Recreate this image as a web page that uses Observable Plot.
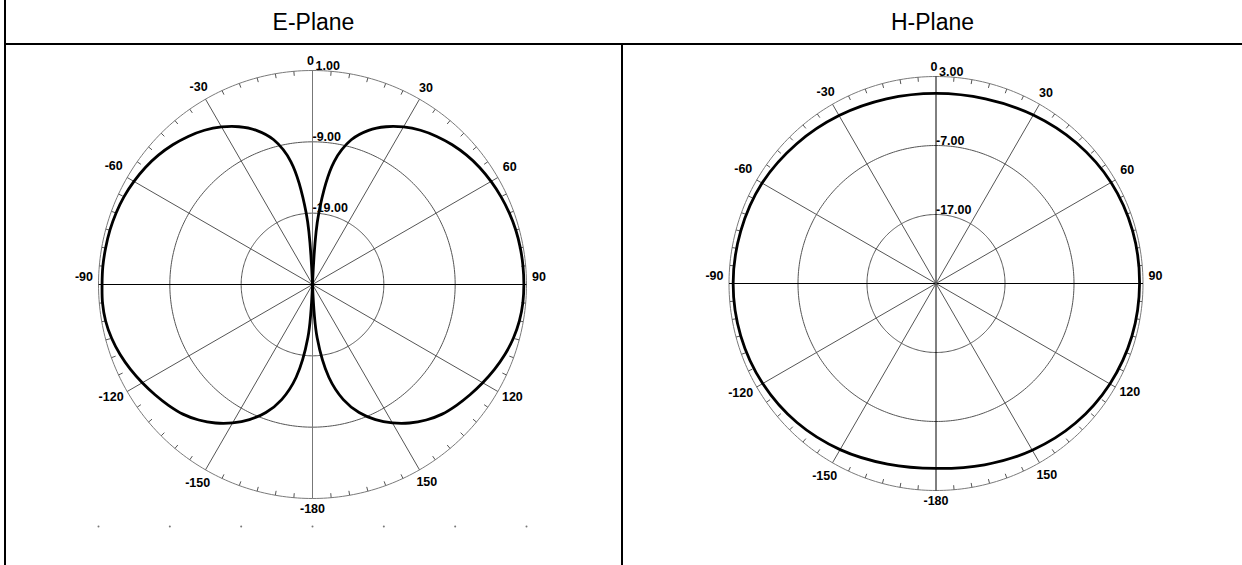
<!DOCTYPE html>
<html><head><meta charset="utf-8">
<script src="https://cdn.jsdelivr.net/npm/d3@7"></script>
<script src="https://cdn.jsdelivr.net/npm/@observablehq/plot@0.6"></script>
<style>
html,body{margin:0;padding:0;background:#fff;}
#page{position:relative;width:1242px;height:565px;overflow:hidden;font-family:"Liberation Sans",Arial,sans-serif;}
.rule{position:absolute;background:#000;}
.head{position:absolute;top:0;height:44px;line-height:45px;text-align:center;font-size:23px;color:#000;}
.cell{position:absolute;top:45px;}
</style></head>
<body><div id="page">
<div class="rule" style="left:4px;top:0;width:2px;height:565px"></div>
<div class="rule" style="left:4px;top:43px;width:1238px;height:2px"></div>
<div class="rule" style="left:621px;top:45px;width:2px;height:520px"></div>
<div class="head" id="hE" style="left:6px;width:615px"></div>
<div class="head" id="hH" style="left:623px;width:619px"></div>
<div class="cell" id="cE" style="left:6px"></div>
<div class="cell" id="cH" style="left:623px"></div>
</div>
<script>
// ---- data ----
const panelTitles = ["E-Plane", "H-Plane"];
const spokeAngles = [0, 30, 60, 90, 120, 150];
const angleTickValues = [0, 30, 60, 90, 120, 150, 180, -150, -120, -90, -60, -30];
const angleTickLabels = ["0", "30", "60", "90", "120", "150", "-180", "-150", "-120", "-90", "-60", "-30"];

// E-Plane: rings (dB) and labels, centre value
const eRingValues = [1, -9, -19];
const eRingLabels = ["1.00", "-9.00", "-19.00"];
const eMinDb = -29;
// E-Plane measured gain (dB) vs angle (deg, clockwise from top)
const eAngles = [0,5,10,15,20,25,30,35,40,45,50,55,60,65,70,75,80,85,90,95,100,105,110,115,120,125,130,135,140,145,150,155,160,165,170,175,
                 180,185,190,195,200,205,210,215,220,225,230,235,240,245,250,255,260,265,270,275,280,285,290,295,300,305,310,315,320,325,330,335,340,345,350,355];
const eGain = [-29,-19,-11.5,-8,-6,-4.6,-3.5,-2.6,-1.9,-1.3,-0.8,-0.4,-0.1,0.15,0.35,0.5,0.58,0.62,0.63,0.6,0.45,0.15,-0.3,-0.85,-1.45,-2.05,-2.65,-3.3,-4.2,-5.3,-6.6,-8.1,-9.9,-12.3,-15.8,-21.5,
               -29,-21.5,-15.8,-12.3,-9.9,-8.1,-6.6,-5.3,-4.2,-3.3,-2.65,-2.05,-1.45,-0.85,-0.3,0.15,0.45,0.55,0.5,0.5,0.45,0.4,0.3,0.15,-0.1,-0.4,-0.8,-1.3,-1.9,-2.6,-3.5,-4.6,-6,-8,-11.5,-19];

// H-Plane
const hRingValues = [3, -7, -17];
const hRingLabels = ["3.00", "-7.00", "-17.00"];
const hMinDb = -27;
const hAngles = [0,15,30,45,60,75,90,105,120,135,150,165,180,195,210,225,240,255,270,285,300,315,330,345];
const hGain = [0.55,0.7,1.2,1.8,2.3,2.5,2.5,2.4,2.1,1.6,0.9,0.2,-0.2,0.1,0.8,1.5,2.0,2.3,2.4,2.3,2.1,1.6,1.1,0.7];

// ---- drawing ----
const FONT = '"Liberation Sans", Arial, sans-serif';
const LABEL_SIZE = 12.5;
const rad = a => a * Math.PI / 180;
function pt(a, r) { return {x: r * Math.sin(rad(a)), y: r * Math.cos(rad(a))}; }
const textWidth = s => [...s].reduce((w, ch) => w + (ch === "-" ? 0.333 : ch === "." ? 0.278 : 0.556), 0) * LABEL_SIZE;

function panel({width, height, cx, cy, R, minDb, ringValues, ringLabels, angles, gains, lobes, spokeColors, bottomDots}) {
  const maxDb = ringValues[0];
  const rho = v => Math.max(0, (v - minDb) / (maxDb - minDb));
  let traceMark;
  if (lobes) {
    // two lobes meeting at the centre: each drawn as its own smooth open curve
    const pts = [];
    angles.forEach((a, i) => {
      const p = pt(a, rho(gains[i]));
      if (a <= 180) pts.push({...p, z: 0, o: a});
      if (a >= 180) pts.push({...p, z: 1, o: a});
      if (a === 0) pts.push({...p, z: 1, o: 360});
    });
    pts.sort((p, q) => p.z - q.z || p.o - q.o);
    traceMark = Plot.line(pts, {x: "x", y: "y", z: "z", curve: "catmull-rom", stroke: "#000", strokeWidth: 2.8, strokeLinejoin: "round"});
  } else {
    const trace = angles.map((a, i) => pt(a, rho(gains[i])));
    traceMark = Plot.line(trace, {x: "x", y: "y", curve: "catmull-rom-closed", stroke: "#000", strokeWidth: 2.8});
  }
  const circleAngles = d3.range(0, 361, 1);
  const rings = ringValues.flatMap((v, k) => circleAngles.map(a => ({...pt(a, rho(v)), k})));
  const spokes = spokeAngles.map((a, i) => {
    const p = pt(a, 1), q = pt(a + 180, 1);
    return {x1: p.x, y1: p.y, x2: q.x, y2: q.y, c: spokeColors[i]};
  });
  const tickLen = 4.5 / R;
  const ticks = d3.range(0, 360, 5).filter(a => a % 30 !== 0).map(a => {
    const p = pt(a, 1), q = pt(a, 1 - tickLen);
    return {x1: p.x, y1: p.y, x2: q.x, y2: q.y};
  });
  // angle labels: text box kept a small gap outside the outer circle
  const angLabels = angleTickValues.map((a, i) => {
    const t = angleTickLabels[i];
    const s = Math.abs(Math.sin(rad(a))), c = Math.abs(Math.cos(rad(a)));
    const off = 5.5 + textWidth(t) / 2 * s + 4.5 * c;
    return {...pt(a, 1 + off / R), t, dy: -8 * Math.pow(s, 6), dx: a === 0 ? -2 : 0};
  });
  const ringText = ringValues.map((v, i) => ({x: 0, y: rho(v), t: ringLabels[i], dx: v >= 0 ? 3 : 0}));
  const marks = [
    Plot.line(rings, {x: "x", y: "y", z: "k", stroke: d => d.k === 0 ? "#7a7a7a" : "#555", strokeWidth: 1}),
    Plot.link(spokes, {x1: "x1", y1: "y1", x2: "x2", y2: "y2", stroke: "c", strokeWidth: 1}),
    Plot.link(ticks, {x1: "x1", y1: "y1", x2: "x2", y2: "y2", stroke: "#555", strokeWidth: 1}),
    traceMark,
    Plot.text(angLabels, {x: "x", y: "y", text: "t", fontSize: LABEL_SIZE, fontWeight: "bold", fill: "#000", fontFamily: FONT}),
    Plot.text(ringText, {x: "x", y: "y", text: "t", textAnchor: "start", dy: -5, fontSize: LABEL_SIZE, fontWeight: "bold", fill: "#000", fontFamily: FONT}),
  ];
  if (bottomDots) {
    marks.push(Plot.dot(bottomDots, {x: "x", y: "y", r: 1, fill: "#777", stroke: null}));
  }
  const svg = Plot.plot({
    width, height, margin: 0,
    x: {domain: [-cx / R, (width - cx) / R], axis: null},
    y: {domain: [-(height - cy) / R, cy / R], axis: null},
    style: {background: "transparent", fontFamily: FONT},
    marks
  });
  // per-label nudges applied to the text elements Plot drew
  const groups = svg.querySelectorAll('g[aria-label="text"]');
  if (groups[0]) groups[0].querySelectorAll("text").forEach((t, i) => {
    t.setAttribute("transform", (t.getAttribute("transform") || "") + ` translate(${angLabels[i].dx},${angLabels[i].dy})`);
  });
  if (groups[1]) groups[1].querySelectorAll("text").forEach((t, i) => {
    t.setAttribute("transform", (t.getAttribute("transform") || "") + ` translate(${ringText[i].dx},0)`);
  });
  return svg;
}

document.getElementById("hE").textContent = panelTitles[0];
document.getElementById("hH").textContent = panelTitles[1];

const eDots = d3.range(-3, 4).map(k => ({x: k / 3, y: -(526 - 284) / 214}));
document.getElementById("cE").append(panel({
  width: 615, height: 520, cx: 306, cy: 239, R: 214,
  minDb: eMinDb, ringValues: eRingValues, ringLabels: eRingLabels,
  angles: eAngles, gains: eGain, lobes: true,
  spokeColors: ["#777", "#555", "#555", "#000", "#555", "#555"],
  bottomDots: eDots
}));
document.getElementById("cH").append(panel({
  width: 619, height: 520, cx: 312.5, cy: 238, R: 207,
  minDb: hMinDb, ringValues: hRingValues, ringLabels: hRingLabels,
  angles: hAngles, gains: hGain, lobes: false,
  spokeColors: ["#000", "#555", "#555", "#000", "#555", "#555"],
  bottomDots: null
}));
</script>
</body></html>
